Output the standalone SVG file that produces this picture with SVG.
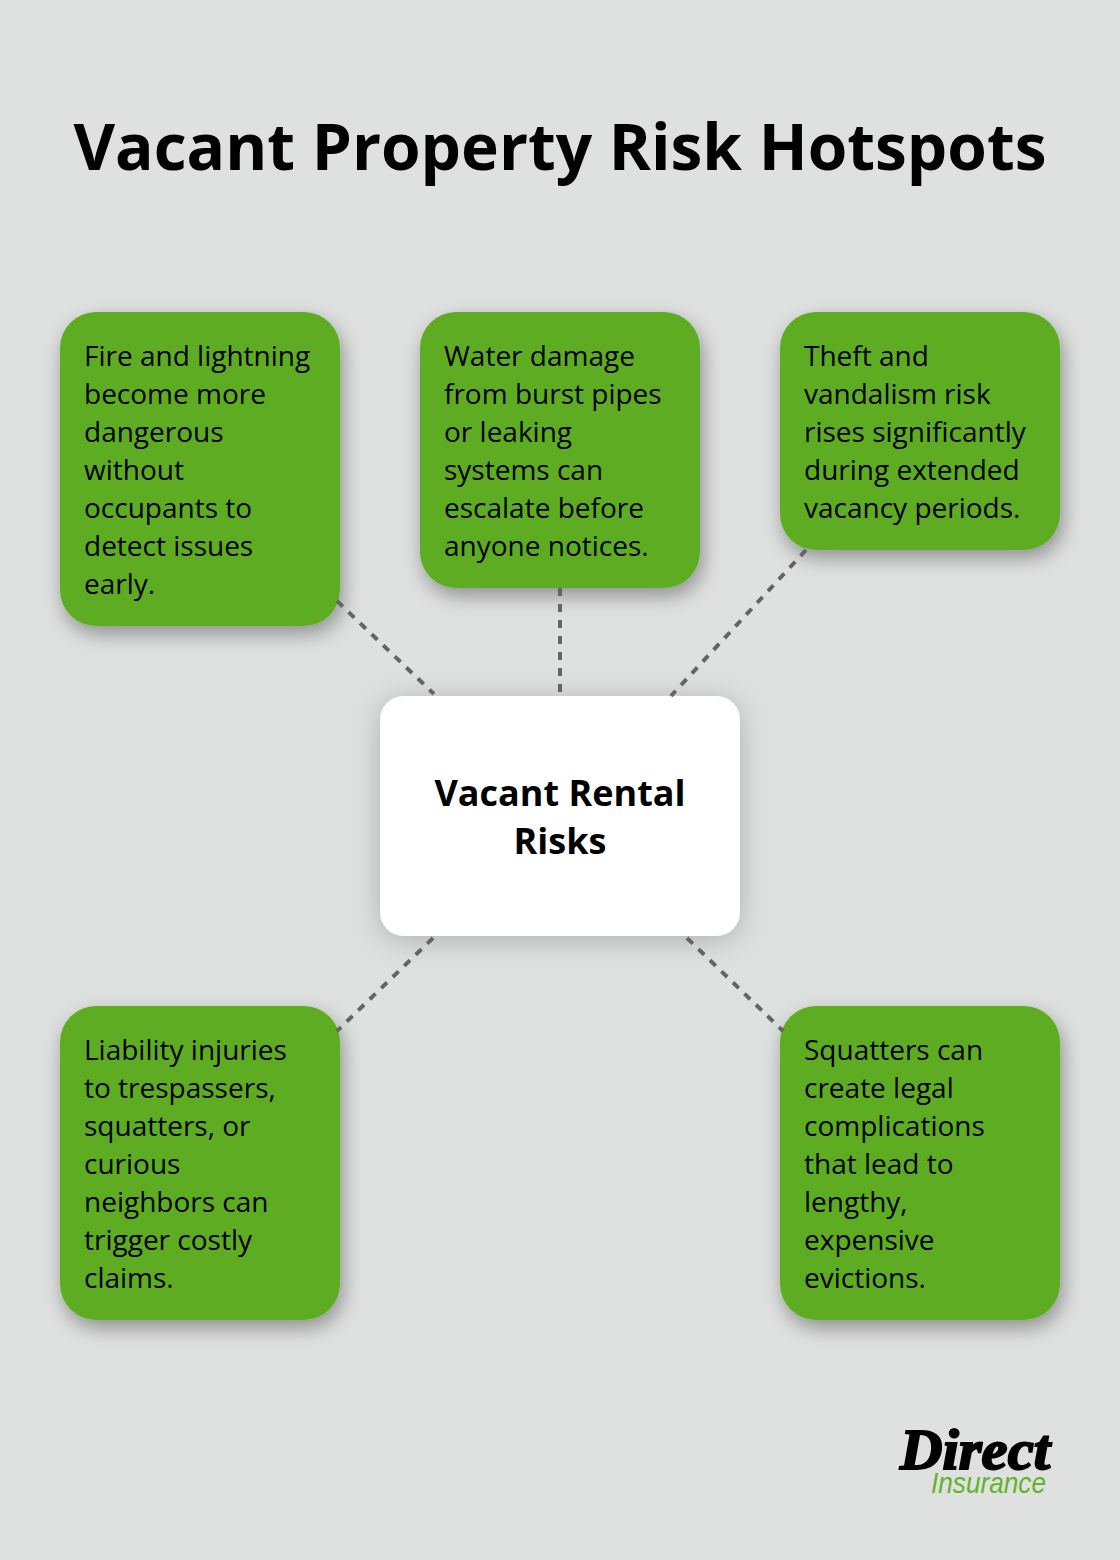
<svg xmlns="http://www.w3.org/2000/svg" width="1120" height="1560" viewBox="0 0 1120 1560">
<defs>
<filter id="s" x="-25%" y="-25%" width="150%" height="150%"><feDropShadow dx="3" dy="8" stdDeviation="10" flood-color="#000" flood-opacity="0.36"/></filter>
<filter id="c" x="-25%" y="-25%" width="150%" height="150%"><feDropShadow dx="0" dy="4" stdDeviation="15" flood-color="#000" flood-opacity="0.22"/></filter>
</defs>
<style>
text{font-family:"Open Sans","Noto Sans",sans-serif}
.t{font-size:64px;font-weight:700;fill:#000;text-anchor:middle}
.n{fill:#5dac21;filter:url(#s)}
.b{font-size:28px;fill:#000}
.c{font-size:36px;font-weight:700;fill:#000;text-anchor:middle}
.l{stroke:#646464;stroke-width:4;stroke-dasharray:8 8;fill:none}
</style>
<rect width="1120" height="1560" fill="#dfe1e0"/>
<text class="t" x="560" y="170">Vacant Property Risk Hotspots</text>
<g id="node-center"><rect x="380" y="696" width="360" height="240" rx="24" fill="#fff" filter="url(#c)"/>
<text class="c" x="560" y="806">Vacant Rental</text><text class="c" x="560" y="854">Risks</text></g>
<g id="node-fire"><rect class="n" x="60" y="312" width="280" height="314" rx="36"/>
<text class="b" x="84" y="366">Fire and lightning</text><text class="b" x="84" y="404">become more</text><text class="b" x="84" y="442">dangerous</text><text class="b" x="84" y="480">without</text><text class="b" x="84" y="518">occupants to</text><text class="b" x="84" y="556">detect issues</text><text class="b" x="84" y="594">early.</text></g>
<g id="node-water"><rect class="n" x="420" y="312" width="280" height="276" rx="36"/>
<text class="b" x="444" y="366">Water damage</text><text class="b" x="444" y="404">from burst pipes</text><text class="b" x="444" y="442">or leaking</text><text class="b" x="444" y="480">systems can</text><text class="b" x="444" y="518">escalate before</text><text class="b" x="444" y="556">anyone notices.</text></g>
<g id="node-theft"><rect class="n" x="780" y="312" width="280" height="238" rx="36"/>
<text class="b" x="804" y="366">Theft and</text><text class="b" x="804" y="404">vandalism risk</text><text class="b" x="804" y="442">rises significantly</text><text class="b" x="804" y="480">during extended</text><text class="b" x="804" y="518">vacancy periods.</text></g>
<g id="node-liability"><rect class="n" x="60" y="1006" width="280" height="314" rx="36"/>
<text class="b" x="84" y="1060">Liability injuries</text><text class="b" x="84" y="1098">to trespassers,</text><text class="b" x="84" y="1136">squatters, or</text><text class="b" x="84" y="1174">curious</text><text class="b" x="84" y="1212">neighbors can</text><text class="b" x="84" y="1250">trigger costly</text><text class="b" x="84" y="1288">claims.</text></g>
<g id="node-squatters"><rect class="n" x="780" y="1006" width="280" height="314" rx="36"/>
<text class="b" x="804" y="1060">Squatters can</text><text class="b" x="804" y="1098">create legal</text><text class="b" x="804" y="1136">complications</text><text class="b" x="804" y="1174">that lead to</text><text class="b" x="804" y="1212">lengthy,</text><text class="b" x="804" y="1250">expensive</text><text class="b" x="804" y="1288">evictions.</text></g>
<g id="connectors">
<line class="l" x1="337" y1="601" x2="434" y2="694"/>
<line class="l" x1="560" y1="588" x2="560" y2="696"/>
<line class="l" x1="806" y1="550" x2="671" y2="696"/>
<line class="l" x1="433" y1="938" x2="337" y2="1031"/>
<line class="l" x1="687" y1="938" x2="783" y2="1031"/>
</g>
<g id="logo">
<text x="900" y="1469" style="font-family:'Liberation Serif',serif;font-size:56px;font-weight:700;font-style:italic" fill="#000" stroke="#000" stroke-width="2" textLength="150" lengthAdjust="spacingAndGlyphs">Direct</text>
<text x="931" y="1493" style="font-family:'Liberation Sans',sans-serif;font-size:29px;font-style:italic" fill="#62b32a" textLength="115" lengthAdjust="spacingAndGlyphs">Insurance</text>
</g>
</svg>
